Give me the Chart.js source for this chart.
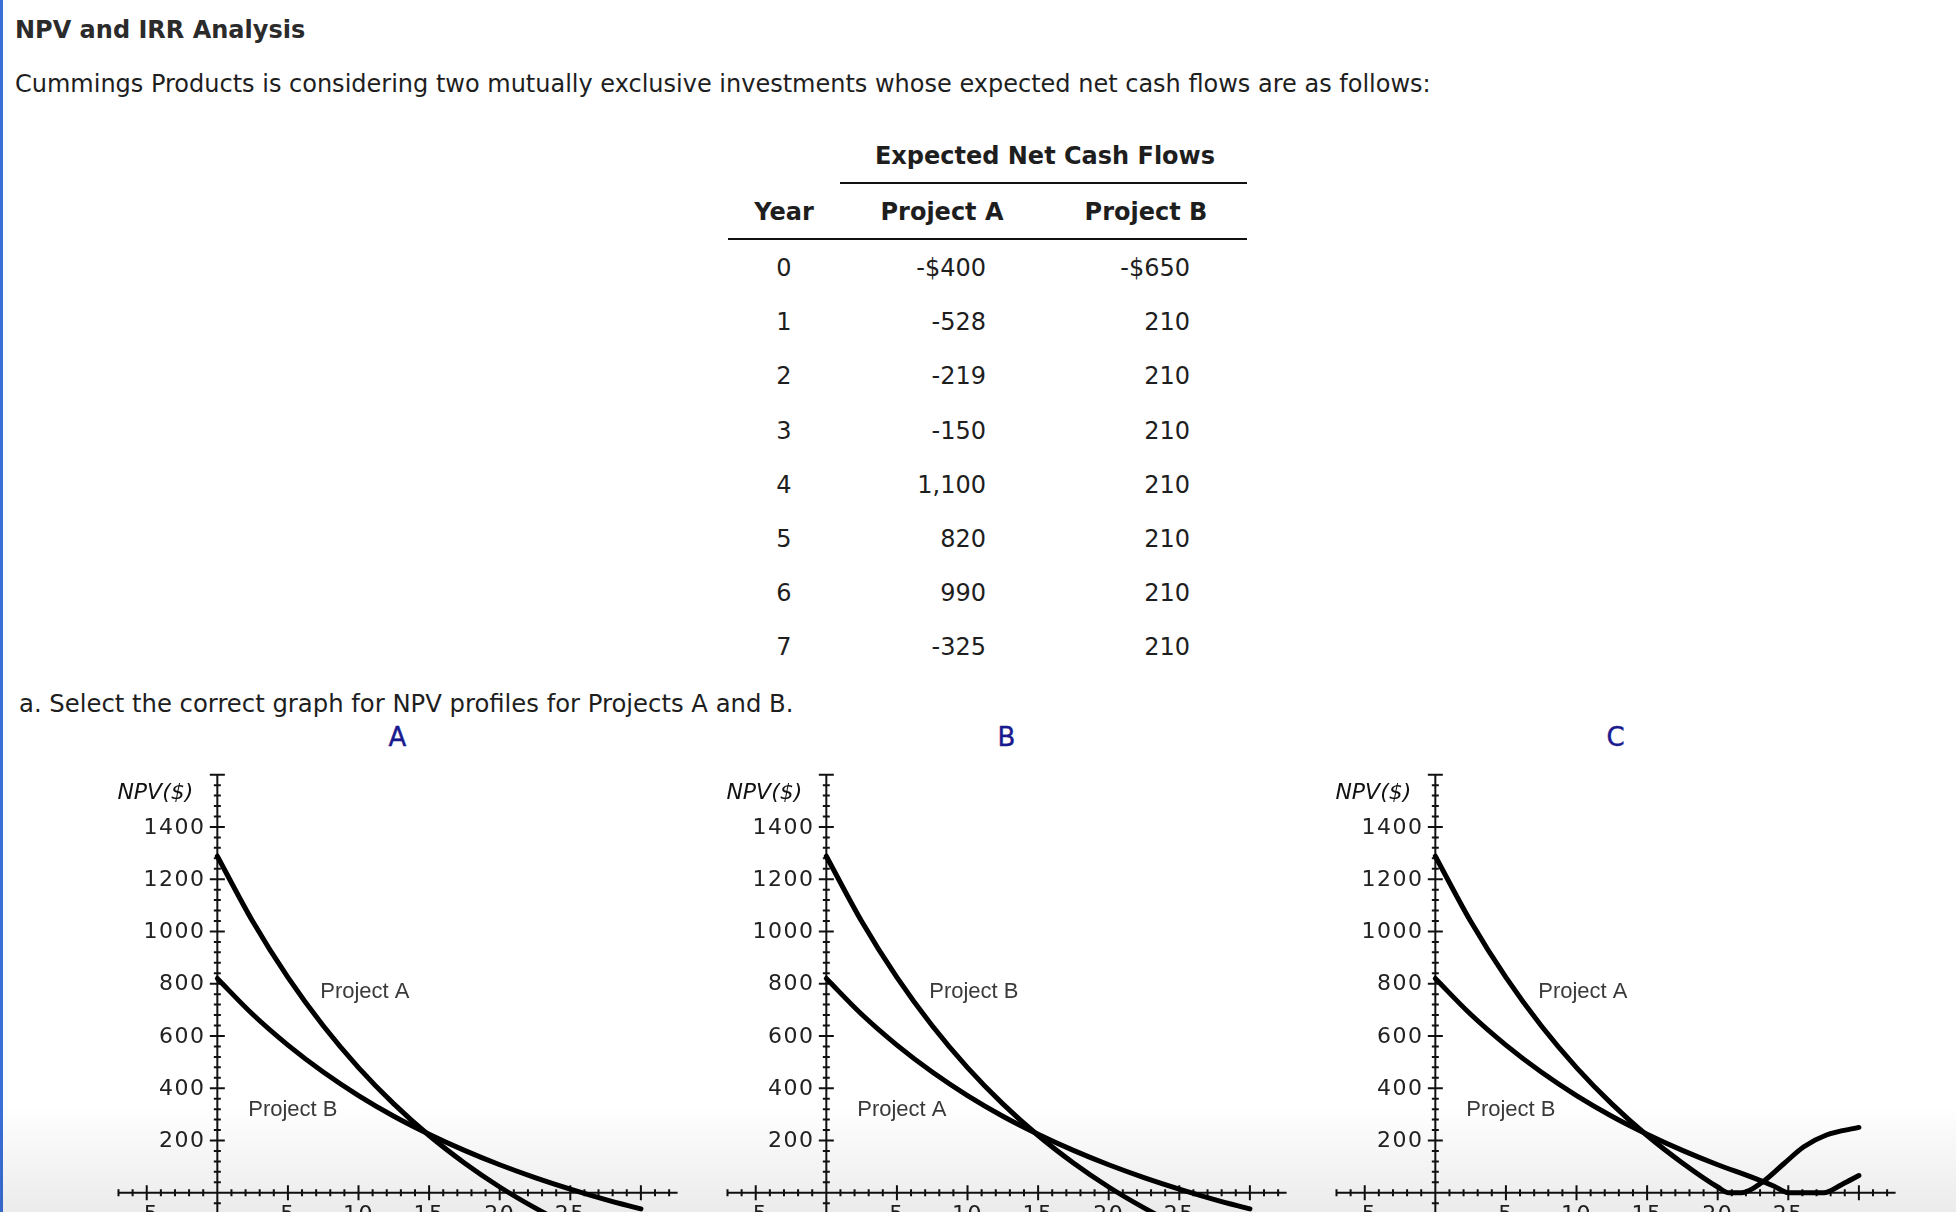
<!DOCTYPE html>
<html><head><meta charset="utf-8">
<script src="https://cdn.jsdelivr.net/npm/chart.js@4.4.1/dist/chart.umd.min.js"></script>
<style>
html,body{margin:0;padding:0;}
body{width:1956px;height:1212px;overflow:hidden;background:#fff;position:relative;font-family:"DejaVu Sans",Verdana,sans-serif;color:#1e1e1e;}
.t{position:absolute;white-space:nowrap;line-height:1;font-size:24px;}
.b{font-weight:bold;}
.hr{position:absolute;height:2px;background:#111;}
canvas{position:absolute;}
#edge{position:absolute;left:0;top:0;width:3px;height:1212px;background:#3b6fd8;}
#shade{position:absolute;left:0;top:1105px;width:1956px;height:107px;background:linear-gradient(to bottom,rgba(0,0,0,0),rgba(0,0,0,0.08));pointer-events:none;}
</style></head><body>
<div id="edge"></div>
<div class="t b" style="left:15px;top:18px;color:#2b2b2b;">NPV and IRR Analysis</div>
<div class="t" style="left:15px;top:72px;">Cummings Products is considering two mutually exclusive investments whose expected net cash flows are as follows:</div>
<div class="t b" style="left:845px;width:400px;text-align:center;top:144px;">Expected Net Cash Flows</div>
<div class="hr" style="left:840px;width:407px;top:182px;"></div>
<div class="t b" style="left:684px;width:200px;text-align:center;top:200px;">Year</div>
<div class="t b" style="left:842px;width:200px;text-align:center;top:200px;">Project A</div>
<div class="t b" style="left:1046px;width:200px;text-align:center;top:200px;">Project B</div>
<div class="hr" style="left:728px;width:519px;top:238px;"></div>
<div id="rows"></div>
<div class="t" style="left:19px;top:692px;font-size:24.3px;">a. Select the correct graph for NPV profiles for Projects A and B.</div>
<div id="letters"></div>
<canvas id="c0" width="600" height="510" style="left:100px;top:760px;"></canvas>
<canvas id="c1" width="600" height="510" style="left:709px;top:760px;"></canvas>
<canvas id="c2" width="600" height="510" style="left:1318px;top:760px;"></canvas>
<div id="shade"></div>
<script>
// ---- table data ----
const years = ["0","1","2","3","4","5","6","7"];
const cashFlowA = ["-$400","-528","-219","-150","1,100","820","990","-325"];
const cashFlowB = ["-$650","210","210","210","210","210","210","210"];
// ---- chart data (discount rate %, NPV $) ----
const rates = [0, 2.5, 5, 7.5, 10, 12.5, 15, 17.5, 20, 22.5, 25, 27.5, 30];
const npvA = [1288, 1039, 824, 639, 479, 340, 219, 114, 22, -58, -129, -190, -245];
const npvB = [820, 683, 565, 462, 372, 293, 224, 162, 107, 58, 14, -26, -62];
// graph C (as drawn)
const ratesC_A = [0, 2.5, 5, 7.5, 10, 12.5, 15, 17.5, 20, 20.8, 21.7, 23.2, 24.7, 26.1, 27.7, 30];
const npvC_A = [1288, 1039, 824, 639, 479, 340, 219, 114, 22, 0, 0, 42, 112, 176, 221, 250];
const ratesC_B = [0, 2.5, 5, 7.5, 10, 12.5, 15, 17.5, 20, 22.5, 24, 25, 27.5, 28.8, 30];
const npvC_B = [820, 683, 565, 462, 372, 293, 224, 162, 107, 58, 25, 0, 0, 32, 66];
const graphLetters = ["A", "B", "C"];
const yTicksShown = [200, 400, 600, 800, 1000, 1200, 1400];
const xTicksShown = [-5, 5, 10, 15, 20, 25, 30];

// table rows
const rowTops = [256, 310, 364, 418.5, 472.5, 526.5, 581, 635];
const rowsEl = document.getElementById('rows');
years.forEach((y, i) => {
  rowsEl.insertAdjacentHTML('beforeend',
    `<div class="t" style="left:684px;width:200px;text-align:center;top:${rowTops[i]}px;">${y}</div>` +
    `<div class="t" style="left:786px;width:200px;text-align:right;top:${rowTops[i]}px;">${cashFlowA[i]}</div>` +
    `<div class="t" style="left:990px;width:200px;text-align:right;top:${rowTops[i]}px;">${cashFlowB[i]}</div>`);
});
const letterCenters = [397.5, 1006.5, 1615.5];
graphLetters.forEach((L, i) => {
  document.getElementById('letters').insertAdjacentHTML('beforeend',
    `<div class="t" style="left:${letterCenters[i]-40}px;width:80px;text-align:center;top:724px;font-size:26px;color:#1a1a8f;-webkit-text-stroke:0.4px #1a1a8f;">${L}</div>`);
});

const mapleAxes = {
  id: 'mapleAxes',
  beforeDatasetsDraw(chart) {
    const {ctx, scales: {x, y}} = chart;
    const x0 = x.getPixelForValue(0), y0 = y.getPixelForValue(0);
    ctx.save();
    ctx.strokeStyle = '#111'; ctx.lineWidth = 2;
    ctx.beginPath();
    ctx.moveTo(x.getPixelForValue(x.min), y0); ctx.lineTo(x.getPixelForValue(x.max), y0);
    ctx.moveTo(x0, y.getPixelForValue(y.max)); ctx.lineTo(x0, y.getPixelForValue(y.min));
    for (let v = Math.ceil(x.min); v <= x.max; v++) {
      const p = x.getPixelForValue(v); const L = v % 5 === 0 ? 7.5 : 3.5;
      ctx.moveTo(p, y0 - L); ctx.lineTo(p, y0 + L);
    }
    for (let v = Math.ceil(y.min / 40) * 40; v <= y.max; v += 40) {
      const p = y.getPixelForValue(v); const L = (v % 200 === 0) ? 7.5 : 3.5;
      ctx.moveTo(x0 - L, p); ctx.lineTo(x0 + L, p);
    }
    ctx.stroke();
    // tick labels from the library's ticks
    ctx.fillStyle = '#222';
    ctx.font = '22px "DejaVu Sans", sans-serif';
    ctx.letterSpacing = '1.5px';
    ctx.textAlign = 'right'; ctx.textBaseline = 'middle';
    y.ticks.forEach(t => {
      if (yTicksShown.includes(t.value)) ctx.fillText(String(t.value), x0 - 11.8, y.getPixelForValue(t.value) + 1);
    });
    ctx.textAlign = 'center'; ctx.textBaseline = 'top';
    x.ticks.forEach(t => {
      if (xTicksShown.includes(t.value)) ctx.fillText(String(t.value), x.getPixelForValue(t.value), y0 + 12);
    });
    ctx.letterSpacing = '0px';
    ctx.restore();
  },
  afterDatasetsDraw(chart, args, opts) {
    const {ctx, scales: {x, y}} = chart;
    ctx.save();
    ctx.font = '22px "Liberation Sans", Arial, sans-serif';
    ctx.fillStyle = '#3a3a3a'; ctx.textAlign = 'center'; ctx.textBaseline = 'middle';
    (opts.labels || []).forEach(l => ctx.fillText(l.text, x.getPixelForValue(l.x), y.getPixelForValue(l.y)));
    ctx.font = 'italic 22px "DejaVu Sans", sans-serif';
    ctx.fillStyle = '#111'; ctx.textAlign = 'right';
    ctx.fillText('NPV($)', x.getPixelForValue(0) - 24, y.getPixelForValue(1528));
    ctx.restore();
  }
};

function makeChart(id, series, labels) {
  new Chart(document.getElementById(id), {
    type: 'line',
    data: {
      datasets: series.map(s => ({
        data: s.xs.map((v, i) => ({x: v, y: s.ys[i]})),
        borderColor: '#000', borderWidth: 5, pointRadius: 0,
        cubicInterpolationMode: 'monotone', fill: false, borderJoinStyle: 'round', borderCapStyle: 'round'
      }))
    },
    options: {
      responsive: false, animation: false, devicePixelRatio: 1,
      layout: {padding: {left: 18.5, right: 22.4, top: 14.7, bottom: 25}},
      plugins: {legend: {display: false}, tooltip: {enabled: false}, mapleAxes: {labels}},
      scales: {
        x: {
          type: 'linear', min: -7, max: 32.6, position: {y: 0},
          grid: {display: false, drawTicks: false}, border: {display: false},
          ticks: {display: false, stepSize: 5, autoSkip: false, maxRotation: 0}
        },
        y: {
          type: 'linear', min: -200, max: 1600, position: {x: 0},
          grid: {display: false, drawTicks: false}, border: {display: false},
          ticks: {display: false, stepSize: 200, autoSkip: false}
        }
      }
    },
    plugins: [mapleAxes]
  });
}

const upperPos = {x: 10.45, y: 769}, lowerPos = {x: 5.35, y: 316};
makeChart('c0', [{xs: rates, ys: npvA}, {xs: rates, ys: npvB}],
  [{text: 'Project A', ...upperPos}, {text: 'Project B', ...lowerPos}]);
makeChart('c1', [{xs: rates, ys: npvA}, {xs: rates, ys: npvB}],
  [{text: 'Project B', ...upperPos}, {text: 'Project A', ...lowerPos}]);
makeChart('c2', [{xs: ratesC_A, ys: npvC_A}, {xs: ratesC_B, ys: npvC_B}],
  [{text: 'Project A', ...upperPos}, {text: 'Project B', ...lowerPos}]);
</script>
</body></html>
